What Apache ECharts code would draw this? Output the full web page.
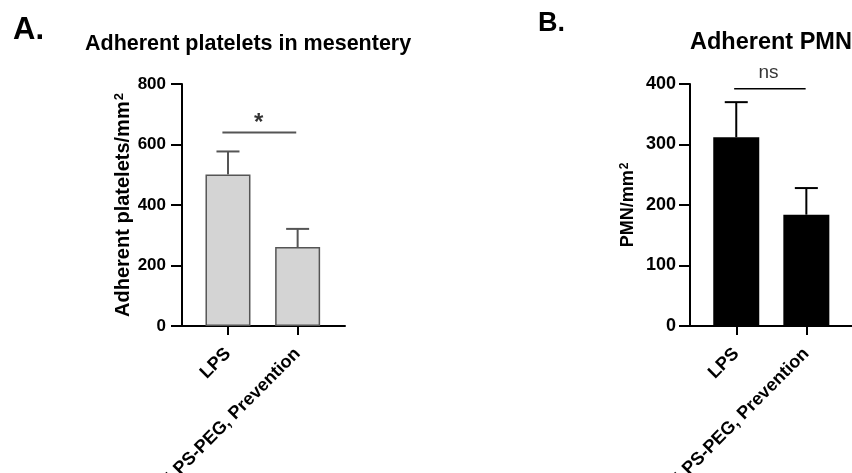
<!DOCTYPE html>
<html lang="en">
<head>
<meta charset="UTF-8" />
<script src="https://cdn.jsdelivr.net/npm/echarts@6/dist/echarts.min.js"></script>
<style>
  html, body { margin:0; padding:0; background:#fff; }
  #main { width:852px; height:473px; }
</style>
</head>
<body>
<div id="main"></div>
<script type="text/javascript">
// 数据
var categories = ['LPS', 'LPS-PEG, Prevention'];
var plateletMean = [501, 261];
var plateletErr = [76, 60];
var pmnMean = [312, 184];
var pmnErr = [58, 44];
var plateletTicks = [0, 200, 400, 600, 800];
var pmnTicks = [0, 100, 200, 300, 400];
// 显著性标记: [起点x, 终点x, y]，[文字x, 文字y]
var sigLineA = [[-0.08, 640], [0.98, 640]];
var sigTextA = [0.44, 671];
var sigLineB = [[-0.03, 392], [0.99, 392]];
var sigTextB = [0.46, 418];

var FONT = 'Liberation Sans, Arial, sans-serif';

function xAxisOf(gi) {
  return {
    type: 'value', gridIndex: gi, min: -0.66, max: 1.68,
    axisLine: { show: true, onZero: false, lineStyle: { color: '#000', width: 2 } },
    axisTick: { show: true, customValues: [0, 1], length: 9, lineStyle: { color: '#000', width: 2 } },
    axisLabel: {
      customValues: [0, 1], rotate: 45, margin: 25, padding: [27, 0, 0, 0],
      formatter: function (v) { return categories[Math.round(v)]; },
      fontSize: 18, fontWeight: 'bold', color: '#000', fontFamily: FONT
    },
    splitLine: { show: false }
  };
}
function yAxisOf(gi, ticks, name, nameSize, nameGap, labelSize, margin) {
  return {
    type: 'value', gridIndex: gi,
    min: ticks[0], max: ticks[ticks.length - 1], interval: ticks[1] - ticks[0],
    axisLine: { show: true, onZero: false, lineStyle: { color: '#000', width: 2 } },
    axisTick: { show: true, length: 11, lineStyle: { color: '#000', width: 2 } },
    axisLabel: { margin: margin, fontSize: labelSize, fontWeight: 'bold', color: '#000', fontFamily: FONT },
    splitLine: { show: false },
    name: name + '{sup|2}', nameLocation: 'middle', nameRotate: 90, nameGap: nameGap,
    nameTextStyle: {
      fontSize: nameSize, fontWeight: 'bold', color: '#000', fontFamily: FONT,
      rich: { sup: { fontSize: Math.round(nameSize * 0.65), fontWeight: 'bold', color: '#000',
        fontFamily: FONT, verticalAlign: 'top', padding: [0, 0, 0, 1] } }
    }
  };
}
function errSeries(gi, mean, err, color) {
  return {
    type: 'custom', xAxisIndex: gi, yAxisIndex: gi, z: 3,
    data: mean.map(function (m, i) { return [i, m, err[i]]; }),
    encode: { x: 0, y: 1 },
    renderItem: function (params, api) {
      var x = api.value(0), m = api.value(1), e = api.value(2);
      var p0 = api.coord([x, m]), p1 = api.coord([x, m + e]);
      var st = { stroke: color, lineWidth: 2 };
      return { type: 'group', children: [
        { type: 'line', shape: { x1: p0[0], y1: p0[1], x2: p1[0], y2: p1[1] }, style: st },
        { type: 'line', shape: { x1: p1[0] - 11.5, y1: p1[1], x2: p1[0] + 11.5, y2: p1[1] }, style: st }
      ] };
    }
  };
}
function sigSeries(gi, line, txtPos, txt, color, width, font) {
  return [{
    type: 'line', xAxisIndex: gi, yAxisIndex: gi, data: line, symbol: 'none',
    clip: false, silent: true, lineStyle: { color: color, width: width }
  }, {
    type: 'scatter', xAxisIndex: gi, yAxisIndex: gi, data: [txtPos], symbolSize: 1,
    clip: false, silent: true, itemStyle: { color: 'rgba(0,0,0,0)' },
    label: { show: true, position: 'inside', formatter: txt, color: '#000',
      fontSize: font.size, fontWeight: font.weight, fontFamily: FONT }
  }];
}

var myChart = echarts.init(document.getElementById('main'));
var option = {
  backgroundColor: '#fff',
  animation: false,
  graphic: [
    { type: 'text', left: 13, top: 15, style: { text: 'A.', font: 'bold 31px ' + FONT, fill: '#000' } },
    { type: 'text', left: 538, top: 10, style: { text: 'B.', font: 'bold 27px ' + FONT, fill: '#000' } },
    { type: 'text', left: 85, top: 33, style: { text: 'Adherent platelets in mesentery', font: 'bold 21.5px ' + FONT, fill: '#000' } },
    { type: 'text', left: 690, top: 31, style: { text: 'Adherent PMN', font: 'bold 23.5px ' + FONT, fill: '#000' } }
  ],
  grid: [
    { left: 182, top: 84, width: 163, height: 242, outerBoundsMode: 'none' },
    { left: 690, top: 84, width: 164, height: 242, outerBoundsMode: 'none' }
  ],
  xAxis: [xAxisOf(0), xAxisOf(1)],
  yAxis: [
    yAxisOf(0, plateletTicks, 'Adherent platelets/mm', 20, 49, 17, 16),
    yAxisOf(1, pmnTicks, 'PMN/mm', 18, 53, 18, 14)
  ],
  series: [
    {
      type: 'bar', xAxisIndex: 0, yAxisIndex: 0, barWidth: 45,
      data: plateletMean.map(function (v, i) { return [i, v]; }),
      itemStyle: { color: '#d4d4d4', borderColor: '#555', borderWidth: 1.5 }
    },
    errSeries(0, plateletMean, plateletErr, '#555'),
    {
      type: 'bar', xAxisIndex: 1, yAxisIndex: 1, barWidth: 46,
      data: pmnMean.map(function (v, i) { return [i, v]; }),
      itemStyle: { color: '#000' }
    },
    errSeries(1, pmnMean, pmnErr, '#000')
  ]
    .concat(sigSeries(0, sigLineA, sigTextA, '*', '#555', 2, { size: 24, weight: 'bold' }))
    .concat(sigSeries(1, sigLineB, sigTextB, 'ns', '#000', 1.5, { size: 19, weight: 'normal' }))
};
myChart.setOption(option);
</script>
</body>
</html>
